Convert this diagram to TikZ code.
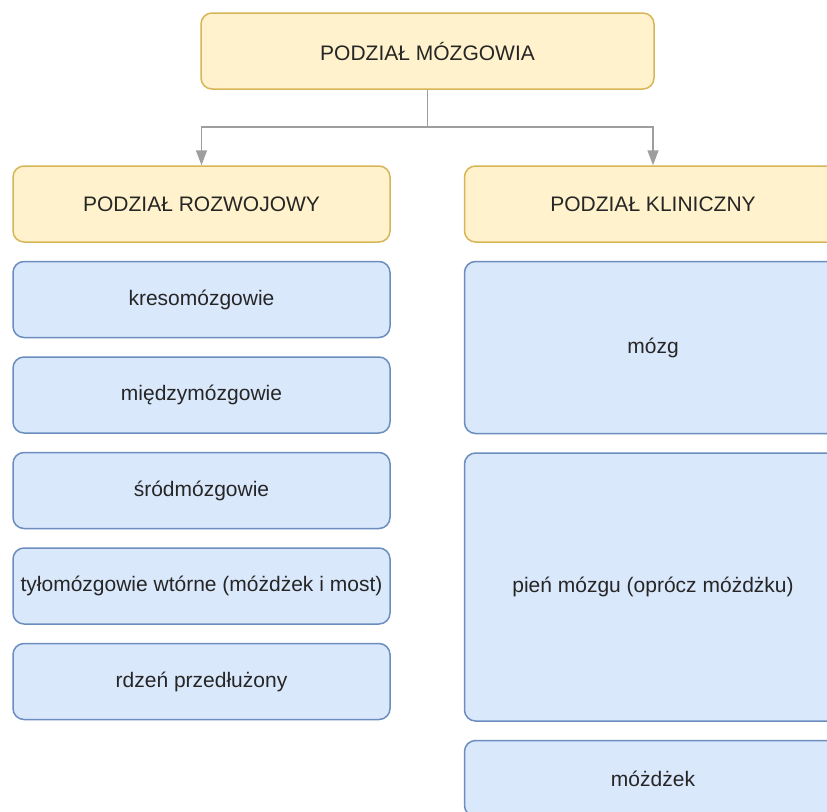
\documentclass[tikz,border=0pt]{standalone}
\usepackage{fontspec}
\setmainfont{Liberation Sans}
\usetikzlibrary{arrows.meta,positioning}
\definecolor{dioYelFill}{HTML}{FFF2CC}
\definecolor{dioYelLine}{HTML}{D6B656}
\definecolor{dioBluFill}{HTML}{DAE8FC}
\definecolor{dioBluLine}{HTML}{6C8EBF}
\definecolor{dioGrey}{HTML}{9E9E9E}
\definecolor{dioText}{HTML}{262626}

\begin{document}
\begin{tikzpicture}[
  x=1pt, y=-1pt,
  >={Triangle[length=15pt, width=11pt]},
  font=\fontsize{21pt}{25pt}\selectfont,
  head/.style ={draw=dioYelLine, fill=dioYelFill, rounded corners=11pt, line width=1.5pt,
                inner sep=0pt, minimum width=\colwd pt, minimum height=76pt,
                align=center, text=dioText},
  item/.style ={draw=dioBluLine, fill=dioBluFill, rounded corners=11pt, line width=1.5pt,
                inner sep=0pt, minimum width=\colwd pt, minimum height=76pt,
                align=center, text=dioText},
  flow/.style ={->, draw=dioGrey, line width=1.5pt},
]

% ---- the grid, in pixels of the 827 x 811 sheet (y runs downwards) -----------------
\pgfmathsetmacro{\colwd}{377}      % column box width
\pgfmathsetmacro{\xl}{201.5}       % left column centre
\pgfmathsetmacro{\xr}{653}         % right column centre, box runs past the sheet edge
\pgfmathsetmacro{\gap}{18}         % gap between stacked boxes

% the sheet; the right column and the last box are cut by it
\useasboundingbox (0,0) rectangle (827,811);
\clip (0,0) rectangle (827,811);

% ============================================================ ROOT
\node[head, minimum width=453pt] (root) at (427.5,51) {PODZIAŁ MÓZGOWIA};

% ============================================================ THE TWO DIVISIONS
\node[head] (rozw) at (\xl,204) {PODZIAŁ ROZWOJOWY};
\node[head] (klin) at (\xr,204) {PODZIAŁ KLINICZNY};

\coordinate (split) at (427.5,127);
\draw[flow] (root.south) -- (split) -| (rozw.north);
\draw[flow] (split) -| (klin.north);

% ============================================================ LEFT: developmental
\node[item, below=\gap pt of rozw]  (kreso) {kresomózgowie};
\node[item, below=\gap pt of kreso] (miedzy) {międzymózgowie};
\node[item, below=\gap pt of miedzy] (srod) {śródmózgowie};
\node[item, below=\gap pt of srod]  (tyl) {tyłomózgowie wtórne (móżdżek i most)};
\node[item, below=\gap pt of tyl]   (rdzen) {rdzeń przedłużony};

% ============================================================ RIGHT: clinical
\node[item, minimum height=172pt, below=\gap pt of klin] (mozg) {mózg};
\node[item, minimum height=268pt, below=\gap pt of mozg] (pien) {pień mózgu (oprócz móżdżku)};
\node[item, below=\gap pt of pien] (mozdzek) {móżdżek};

\end{tikzpicture}
\end{document}
